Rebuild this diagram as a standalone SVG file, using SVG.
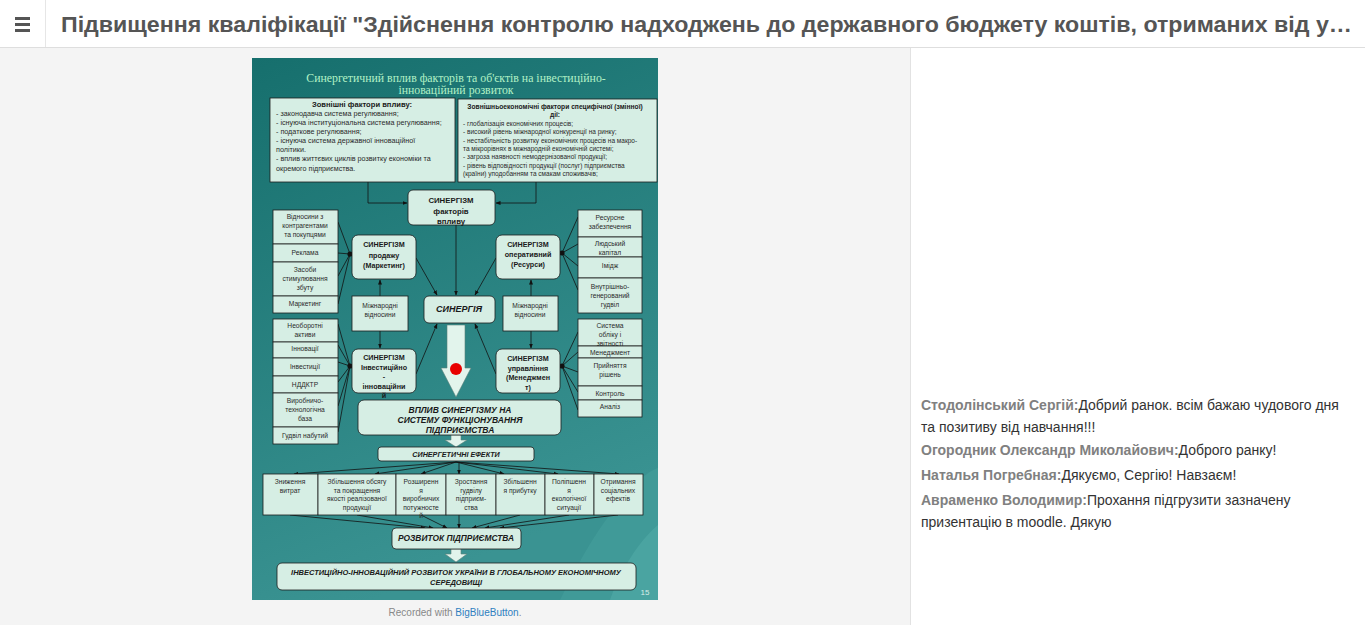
<svg xmlns="http://www.w3.org/2000/svg" width="1365" height="625" viewBox="0 0 1365 625">
<defs>
<linearGradient id="bg" x1="0" y1="0" x2="0.3" y2="1">
<stop offset="0" stop-color="#166f6d"/>
<stop offset="1" stop-color="#3a9392"/>
</linearGradient>
<marker id="ah" viewBox="0 0 10 10" refX="9" refY="5" markerWidth="5" markerHeight="5" markerUnits="userSpaceOnUse" orient="auto">
<path d="M0,1 L10,5 L0,9 Z" fill="#111"/>
</marker>
<style>
.bx{fill:#d6eee4;stroke:#1c1c1c;stroke-width:0.8}
.rb{fill:#d6eee4;stroke:#1c1c1c;stroke-width:0.8}
.t{font-family:"Liberation Sans",Arial,sans-serif;font-size:6.7px;fill:#2a2a2a;text-anchor:middle}
.tl{font-family:"Liberation Sans",Arial,sans-serif;font-size:7.2px;fill:#2a2a2a}
.tr{font-family:"Liberation Sans",Arial,sans-serif;font-size:6.5px;fill:#2a2a2a}
.b{font-family:"Liberation Sans",Arial,sans-serif;font-size:7.8px;font-weight:bold;fill:#1a1a1a;text-anchor:middle}
.bi{font-family:"Liberation Sans",Arial,sans-serif;font-size:8.5px;font-weight:bold;font-style:italic;fill:#1a1a1a;text-anchor:middle}
.ln{stroke:#111;stroke-width:0.8;fill:none;marker-end:url(#ah)}
.lp{stroke:#111;stroke-width:0.8;fill:none}
.chat{font-family:"Liberation Sans",Arial,sans-serif;font-size:14px;fill:#333}
.nm{font-weight:bold;fill:#808080}
</style>
</defs>

<!-- page -->
<rect x="0" y="0" width="1365" height="625" fill="#ffffff"/>
<rect x="0" y="48" width="910" height="577" fill="#f4f4f4"/>
<line x1="910.5" y1="48" x2="910.5" y2="625" stroke="#e2e2e2"/>
<line x1="0" y1="47.5" x2="1365" y2="47.5" stroke="#dedede"/>
<line x1="45.5" y1="0" x2="45.5" y2="47" stroke="#e6e6e6"/>
<g id="menu" fill="#555">
<rect x="15" y="17" width="15" height="3"/>
<rect x="15" y="23" width="15" height="3"/>
<rect x="15" y="29" width="15" height="3"/>
</g>
<text x="61" y="32" font-family="'Liberation Sans',Arial,sans-serif" font-size="22" font-weight="bold" fill="#555" textLength="1291" lengthAdjust="spacingAndGlyphs">Підвищення кваліфікації "Здійснення контролю надходжень до державного бюджету коштів, отриманих від у…</text>

<!-- slide -->
<g id="slide">
<rect x="252" y="58" width="406" height="542" fill="url(#bg)"/>
<path d="M560,600 C580,560 600,520 640,480 C650,470 658,468 658,468 L658,600 Z" fill="#4aa3a0" opacity="0.45"/>
<path d="M610,600 C620,570 640,540 658,525 L658,600 Z" fill="#5bb3ae" opacity="0.4"/>
<text x="456" y="82" font-family="'Liberation Serif','Times New Roman',serif" font-size="11.8" fill="#b2f2c6" text-anchor="middle">Синергетичний вплив факторів та об'єктів на інвестиційно-</text>
<text x="456" y="94" font-family="'Liberation Serif','Times New Roman',serif" font-size="11.8" fill="#b2f2c6" text-anchor="middle">інноваційний розвиток</text>
<text x="645" y="595" font-family="'Liberation Sans',Arial,sans-serif" font-size="8" fill="#d8eee8" text-anchor="middle">15</text>
</g>

<!-- connectors -->
<g id="connectors">
<path class="ln" d="M368,182 V203 H407"/>
<path class="ln" d="M536,182 V203 H496"/>
<path class="ln" d="M456,225 V295"/>
<path class="ln" d="M416,258 L437,295"/>
<path class="ln" d="M496,258 L475,295"/>
<path class="ln" d="M380,296 V280"/>
<path class="ln" d="M531,296 V280"/>
<path class="ln" d="M380,331 V348"/>
<path class="ln" d="M531,331 V348"/>
<path class="ln" d="M416,374 L437,324"/>
<path class="ln" d="M496,374 L475,324"/>
<path class="lp" d="M338,222 L350,254 M338,253 L350,254 M338,276 L350,254 M338,304 L350,254"/>
<circle cx="350" cy="254" r="2.6" fill="#111"/>
<path class="lp" d="M578,217 L562,253 M578,244 L562,253 M578,266 L562,253 M578,290 L562,253"/>
<circle cx="562" cy="253" r="2.6" fill="#111"/>
<path class="lp" d="M338,324 L350,366 M338,345 L350,366 M338,362 L350,366 M338,382 L350,366 M338,406 L350,366 M338,432 L350,366"/>
<circle cx="350" cy="366" r="2.6" fill="#111"/>
<path class="lp" d="M578,332 L562,366 M578,352 L562,366 M578,372 L562,366 M578,392 L562,366 M578,410 L562,366"/>
<circle cx="562" cy="366" r="2.6" fill="#111"/>
<path class="ln" d="M456,462 L294,474"/>
<path class="ln" d="M456,462 L375,474"/>
<path class="ln" d="M456,462 L421,474"/>
<path class="ln" d="M459,462 L459,474"/>
<path class="ln" d="M456,462 L504,474"/>
<path class="ln" d="M456,462 L558,474"/>
<path class="ln" d="M456,462 L619,474"/>
<path class="ln" d="M290,515 L425,528"/>
<path class="ln" d="M357,515 L433,528"/>
<path class="ln" d="M421,515 L447,528"/>
<path class="ln" d="M459,515 L459,528"/>
<path class="ln" d="M520,515 L472,528"/>
<path class="ln" d="M569,515 L485,528"/>
<path class="ln" d="M618,515 L500,528"/>
<path d="M447,325 L465,325 L465,368 L471,368 L456,397 L441,368 L447,368 Z" fill="#e2f4ec" stroke="#5a7f78" stroke-width="0.6"/>
<path d="M451,435 L461,435 L461,440 L467,440 L456,447 L445,440 L451,440 Z" fill="#e2f4ec" stroke="#5a7f78" stroke-width="0.6"/>
<path d="M451,549 L461,549 L461,554 L467,554 L456,562 L445,554 L451,554 Z" fill="#e2f4ec" stroke="#5a7f78" stroke-width="0.6"/>
</g>

<g id="ext-factors">
<rect class="bx" x="270" y="98" width="185" height="84"/>
<text class="b" x="362" y="107" style="font-size:7.6px">Зовнішні фактори впливу:</text>
<text class="tl" x="276" y="116">- законодавча система регулювання;</text>
<text class="tl" x="276" y="125">- існуюча інституціональна система регулювання;</text>
<text class="tl" x="276" y="134">- податкове регулювання;</text>
<text class="tl" x="276" y="143">- існуюча система державної інноваційної</text>
<text class="tl" x="276" y="152">політики.</text>
<text class="tl" x="276" y="161">- вплив життєвих циклів розвитку економіки та</text>
<text class="tl" x="276" y="171">окремого підприємства.</text>
</g>
<g id="foreign-factors">
<rect class="bx" x="458" y="99" width="199" height="83"/>
<text class="b" x="555" y="109" style="font-size:6.7px">Зовнішньоекономічні фактори специфічної (змінної)</text>
<text class="b" x="555" y="117" style="font-size:6.7px">дії:</text>
<text class="tr" x="463" y="126">- глобалізація економічних процесів;</text>
<text class="tr" x="463" y="134">- високий рівень міжнародної конкуренції на ринку;</text>
<text class="tr" x="463" y="143">- нестабільність розвитку економічних процесів на макро-</text>
<text class="tr" x="463" y="151">та мікрорівнях в міжнародній економічній системі;</text>
<text class="tr" x="463" y="159">- загроза наявності немодернізованої продукції;</text>
<text class="tr" x="463" y="168">-  рівень  відповідності продукції  (послуг) підприємства</text>
<text class="tr" x="463" y="176">(країни) уподобанням та смакам споживачів;</text>
</g>

<g id="synergism-factors">
<rect class="rb" x="408" y="190" width="87" height="35" rx="5"/>
<text class="b" x="451" y="203">СИНЕРГІЗМ</text>
<text class="b" x="451" y="214">факторів</text>
<text class="b" x="451" y="224">впливу</text>
</g>

<g id="left-col-1">
<rect class="bx" x="273" y="210" width="65" height="34"/>
<text class="t" x="305" y="219">Відносини з</text>
<text class="t" x="305" y="228">контрагентами</text>
<text class="t" x="305" y="237">та покупцями</text>
<rect class="bx" x="273" y="244" width="65" height="18"/>
<text class="t" x="305" y="255">Реклама</text>
<rect class="bx" x="273" y="262" width="65" height="34"/>
<text class="t" x="305" y="272">Засоби</text>
<text class="t" x="305" y="281">стимулювання</text>
<text class="t" x="305" y="290">збуту</text>
<rect class="bx" x="273" y="296" width="65" height="17"/>
<text class="t" x="305" y="306">Маркетинг</text>
</g>

<g id="left-col-2">
<rect class="bx" x="273" y="319" width="65" height="23"/>
<text class="t" x="305" y="328">Необоротні</text>
<text class="t" x="305" y="337">активи</text>
<rect class="bx" x="273" y="342" width="65" height="16"/>
<text class="t" x="305" y="351">Інновації</text>
<rect class="bx" x="273" y="358" width="65" height="18"/>
<text class="t" x="305" y="369">Інвестиції</text>
<rect class="bx" x="273" y="376" width="65" height="17"/>
<text class="t" x="305" y="387">НДДКТР</text>
<rect class="bx" x="273" y="393" width="65" height="34"/>
<text class="t" x="305" y="403">Виробничо-</text>
<text class="t" x="305" y="412">технологічна</text>
<text class="t" x="305" y="421">база</text>
<rect class="bx" x="273" y="427" width="65" height="17"/>
<text class="t" x="305" y="438">Гудвіл набутий</text>
</g>

<g id="right-col-1">
<rect class="bx" x="578" y="210" width="64" height="27"/>
<text class="t" x="610" y="220">Ресурсне</text>
<text class="t" x="610" y="229">забезпечення</text>
<rect class="bx" x="578" y="237" width="64" height="20"/>
<text class="t" x="610" y="246">Людський</text>
<text class="t" x="610" y="255">капітал</text>
<rect class="bx" x="578" y="257" width="64" height="21"/>
<text class="t" x="610" y="268">Імідж</text>
<rect class="bx" x="578" y="278" width="64" height="35"/>
<text class="t" x="610" y="289">Внутрішньо-</text>
<text class="t" x="610" y="298">генерований</text>
<text class="t" x="610" y="307">гудвіл</text>
</g>

<g id="right-col-2">
<rect class="bx" x="578" y="319" width="64" height="27"/>
<text class="t" x="610" y="328">Система</text>
<text class="t" x="610" y="337">обліку і</text>
<text class="t" x="610" y="346">звітності</text>
<rect class="bx" x="578" y="346" width="64" height="12"/>
<text class="t" x="610" y="355">Менеджмент</text>
<rect class="bx" x="578" y="358" width="64" height="28"/>
<text class="t" x="610" y="368">Прийняття</text>
<text class="t" x="610" y="377">рішень</text>
<rect class="bx" x="578" y="386" width="64" height="14"/>
<text class="t" x="610" y="396">Контроль</text>
<rect class="bx" x="578" y="400" width="64" height="17"/>
<text class="t" x="610" y="409">Аналіз</text>
</g>

<g id="syn-sales">
<rect class="rb" x="352" y="235" width="64" height="44" rx="6"/>
<text class="b" x="384" y="247" style="font-size:7.2px">СИНЕРГІЗМ</text>
<text class="b" x="384" y="258" style="font-size:7.2px">продажу</text>
<text class="b" x="384" y="268" style="font-size:7.2px">(Маркетинг)</text>
</g>
<g id="syn-oper">
<rect class="rb" x="496" y="235" width="64" height="44" rx="6"/>
<text class="b" x="528" y="247" style="font-size:7.2px">СИНЕРГІЗМ</text>
<text class="b" x="528" y="257" style="font-size:7.2px">оперативний</text>
<text class="b" x="528" y="267" style="font-size:7.2px">(Ресурси)</text>
</g>
<g id="intl-left">
<rect class="bx" x="352" y="296" width="56" height="35"/>
<text class="t" x="380" y="308">Міжнародні</text>
<text class="t" x="380" y="317">відносини</text>
</g>
<g id="intl-right">
<rect class="bx" x="503" y="296" width="55" height="35"/>
<text class="t" x="530" y="308">Міжнародні</text>
<text class="t" x="530" y="317">відносини</text>
</g>
<g id="synergy">
<rect class="rb" x="424" y="296" width="71" height="27" rx="5"/>
<text class="bi" x="459" y="312" style="font-size:9px">СИНЕРГІЯ</text>
</g>
<g id="syn-invest">
<rect class="rb" x="352" y="349" width="64" height="44" rx="6"/>
<text class="b" x="384" y="360" style="font-size:7.2px">СИНЕРГІЗМ</text>
<text class="b" x="384" y="370" style="font-size:7.2px">Інвестиційно</text>
<text class="b" x="384" y="379" style="font-size:7.2px">-</text>
<text class="b" x="384" y="389" style="font-size:7.2px">інноваційни</text>
<text class="b" x="384" y="398" style="font-size:7.2px">й</text>
</g>
<g id="syn-manage">
<rect class="rb" x="496" y="349" width="64" height="44" rx="6"/>
<text class="b" x="528" y="361" style="font-size:7.2px">СИНЕРГІЗМ</text>
<text class="b" x="528" y="371" style="font-size:7.2px">управління</text>
<text class="b" x="528" y="380" style="font-size:7.2px">(Менеджмен</text>
<text class="b" x="528" y="390" style="font-size:7.2px">т)</text>
</g>
<circle cx="456" cy="369" r="6" fill="#e80000"/>

<g id="impact">
<rect class="rb" x="358" y="400" width="203" height="35" rx="6"/>
<text class="bi" x="460" y="413">ВПЛИВ СИНЕРГІЗМУ НА</text>
<text class="bi" x="460" y="423">СИСТЕМУ ФУНКЦІОНУВАННЯ</text>
<text class="bi" x="460" y="433">ПІДПРИЄМСТВА</text>
</g>
<g id="effects-title">
<rect class="rb" x="378" y="447" width="156" height="14" rx="3"/>
<text class="bi" x="456" y="457" style="font-size:7.2px">СИНЕРГЕТИЧНІ ЕФЕКТИ</text>
</g>

<g id="effects">
<rect class="bx" x="263" y="474" width="55" height="41"/>
<text class="t" x="290" y="484">Зниження</text>
<text class="t" x="290" y="493">витрат</text>
<rect class="bx" x="318" y="474" width="78" height="41"/>
<text class="t" x="357" y="484">Збільшення обсягу</text>
<text class="t" x="357" y="493">та покращення</text>
<text class="t" x="357" y="501">якості реалізованої</text>
<text class="t" x="357" y="510">продукції</text>
<rect class="bx" x="396" y="474" width="50" height="41"/>
<text class="t" x="421" y="484">Розширенн</text>
<text class="t" x="421" y="493">я</text>
<text class="t" x="421" y="501">виробничих</text>
<text class="t" x="421" y="510">потужносте</text>
<text class="t" x="421" y="518">й</text>
<rect class="bx" x="446" y="474" width="50" height="41"/>
<text class="t" x="471" y="484">Зростання</text>
<text class="t" x="471" y="493">гудвілу</text>
<text class="t" x="471" y="501">підприєм-</text>
<text class="t" x="471" y="510">ства</text>
<rect class="bx" x="496" y="474" width="49" height="41"/>
<text class="t" x="520" y="484">Збільшенн</text>
<text class="t" x="520" y="493">я прибутку</text>
<rect class="bx" x="545" y="474" width="49" height="41"/>
<text class="t" x="569" y="484">Поліпшенн</text>
<text class="t" x="569" y="493">я</text>
<text class="t" x="569" y="501">екологічної</text>
<text class="t" x="569" y="510">ситуації</text>
<rect class="bx" x="594" y="474" width="49" height="41"/>
<text class="t" x="618" y="484">Отримання</text>
<text class="t" x="618" y="493">соціальних</text>
<text class="t" x="618" y="501">ефектів</text>
</g>

<g id="enterprise-dev">
<rect class="rb" x="392" y="528" width="129" height="21" rx="4"/>
<text class="bi" x="456" y="541" style="font-size:8.4px">РОЗВИТОК ПІДПРИЄМСТВА</text>
</g>
<g id="ukraine-dev">
<rect class="rb" x="277" y="563" width="359" height="27" rx="5"/>
<text class="bi" x="456" y="575" style="font-size:7.5px">ІНВЕСТИЦІЙНО-ІННОВАЦІЙНИЙ РОЗВИТОК УКРАЇНИ В ГЛОБАЛЬНОМУ ЕКОНОМІЧНОМУ</text>
<text class="bi" x="456" y="585" style="font-size:7.5px">СЕРЕДОВИЩІ</text>
</g>

<text x="455" y="616" font-family="'Liberation Sans',Arial,sans-serif" font-size="10" fill="#888" text-anchor="middle">Recorded with <tspan fill="#2f7fbf">BigBlueButton</tspan>.</text>

<g id="chat">
<text class="chat" x="921" y="410"><tspan class="nm">Стодолінський Сергій:</tspan>Добрий ранок. всім бажаю чудового дня</text>
<text class="chat" x="921" y="432">та позитиву від навчання!!!</text>
<text class="chat" x="921" y="455"><tspan class="nm">Огородник Олександр Миколайович:</tspan>Доброго ранку!</text>
<text class="chat" x="921" y="480"><tspan class="nm">Наталья Погребная:</tspan>Дякуємо, Сергію! Навзаєм!</text>
<text class="chat" x="921" y="505"><tspan class="nm">Авраменко Володимир:</tspan>Прохання підгрузити зазначену</text>
<text class="chat" x="921" y="527">призентацію в moodle. Дякую</text>
</g>
</svg>
